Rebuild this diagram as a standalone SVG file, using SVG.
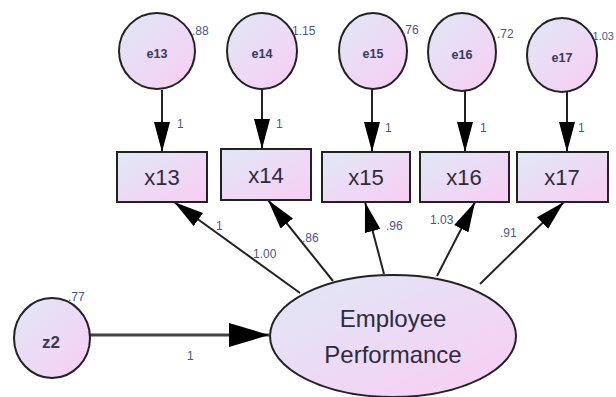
<svg xmlns="http://www.w3.org/2000/svg" width="616" height="397" viewBox="0 0 616 397">
<defs>
<linearGradient id="g" x1="0" y1="0" x2="1" y2="1">
<stop offset="0" stop-color="#e0e8f6"/>
<stop offset="1" stop-color="#f8cdf4"/>
</linearGradient>
<marker id="ah" markerUnits="userSpaceOnUse" viewBox="0 -9 31 18" refX="30" refY="0" markerWidth="31" markerHeight="18" orient="auto">
<path d="M0,-8 L30,0 L0,8 z" fill="#000"/>
</marker>
<marker id="ahb" markerUnits="userSpaceOnUse" viewBox="0 -13 41 26" refX="40" refY="0" markerWidth="41" markerHeight="26" orient="auto">
<path d="M0,-12 L40,0 L0,12 z" fill="#000"/>
</marker>
<style>
.n{fill:url(#g);stroke:#222;stroke-width:2}
.c{stroke:#222;stroke-width:2;fill:none;marker-end:url(#ah)}
.ct{font-family:"Liberation Sans",Arial,sans-serif;font-size:12.5px;font-weight:bold;fill:#343b58;text-anchor:middle}
.bt{font-family:"Liberation Sans",Arial,sans-serif;font-size:22px;fill:#2c2c3c;text-anchor:middle}
.et{font-family:"Liberation Sans",Arial,sans-serif;font-size:24px;fill:#2c2c3c;text-anchor:middle}
.l{font-family:"Liberation Sans",Arial,sans-serif;font-size:12px;fill:#4a5588}
</style>
</defs>
<rect width="616" height="397" fill="#fff"/>
<g id="connectors">
<line class="c" x1="162" y1="90" x2="162" y2="152"/>
<line class="c" x1="262" y1="89" x2="262" y2="149"/>
<line class="c" x1="372" y1="89" x2="372" y2="152"/>
<line class="c" x1="465" y1="91" x2="465" y2="152"/>
<line class="c" x1="567" y1="92" x2="567" y2="152"/>
<line class="c" x1="300" y1="293" x2="174" y2="202"/>
<line class="c" x1="333" y1="281" x2="268" y2="200"/>
<line class="c" x1="384" y1="274" x2="365" y2="202"/>
<line class="c" x1="437" y1="276" x2="475" y2="202"/>
<line class="c" x1="480" y1="284" x2="564" y2="202"/>
<line x1="90" y1="335" x2="269" y2="335" stroke="#444" stroke-width="3" marker-end="url(#ahb)"/>
<text class="l" x="177" y="128">1</text>
<text class="l" x="276" y="128">1</text>
<text class="l" x="385" y="132">1</text>
<text class="l" x="480" y="132">1</text>
<text class="l" x="578" y="132">1</text>
<text class="l" x="216" y="230">1</text>
<text class="l" x="253" y="258">1.00</text>
<text class="l" x="302" y="242">.86</text>
<text class="l" x="386" y="230">.96</text>
<text class="l" x="430" y="224">1.03</text>
<text class="l" x="500" y="237">.91</text>
<text class="l" x="187" y="360">1</text>
</g>
<g id="e13"><ellipse class="n" cx="157" cy="51" rx="38" ry="38"/><text class="ct" x="157" y="58">e13</text><text class="l" x="192" y="35">.88</text></g>
<g id="e14"><ellipse class="n" cx="262" cy="51" rx="35" ry="38"/><text class="ct" x="262" y="58">e14</text><text class="l" x="292" y="35">1.15</text></g>
<g id="e15"><ellipse class="n" cx="373" cy="51" rx="34" ry="38"/><text class="ct" x="373" y="58">e15</text><text class="l" x="402" y="34">.76</text></g>
<g id="e16"><ellipse class="n" cx="462" cy="52" rx="34" ry="39"/><text class="ct" x="462" y="59">e16</text><text class="l" x="497" y="38">.72</text></g>
<g id="e17"><ellipse class="n" cx="562" cy="55" rx="35" ry="37"/><text class="ct" x="562" y="62">e17</text><text class="l" x="614" y="40" text-anchor="end" style="font-size:11px">1.03</text></g>
<g id="x13"><rect class="n" x="117" y="152" width="90" height="50"/><text class="bt" x="162" y="185">x13</text></g>
<g id="x14"><rect class="n" x="221" y="149" width="90" height="51"/><text class="bt" x="266" y="183">x14</text></g>
<g id="x15"><rect class="n" x="322" y="152" width="88" height="50"/><text class="bt" x="366" y="185">x15</text></g>
<g id="x16"><rect class="n" x="420" y="152" width="89" height="50"/><text class="bt" x="464" y="185">x16</text></g>
<g id="x17"><rect class="n" x="517" y="152" width="91" height="50"/><text class="bt" x="562" y="185">x17</text></g>
<g id="ep"><ellipse class="n" cx="393" cy="336" rx="123" ry="61"/><text class="et" x="393" y="327">Employee</text><text class="et" x="393" y="363">Performance</text></g>
<g id="z2"><ellipse class="n" cx="52" cy="338" rx="38" ry="40"/><text class="ct" x="51" y="348" style="font-size:17px">z2</text><text class="l" x="68" y="301">.77</text></g>
</svg>
